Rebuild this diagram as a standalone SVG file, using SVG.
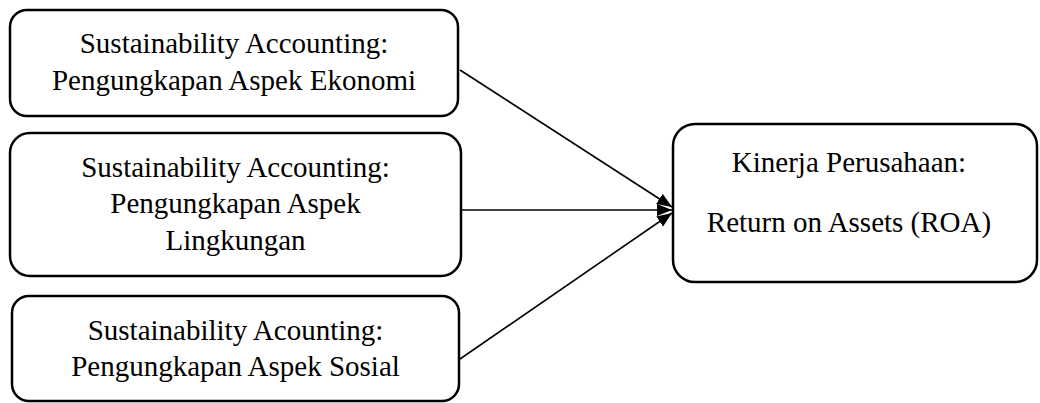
<svg xmlns="http://www.w3.org/2000/svg" width="1040" height="403" viewBox="0 0 1040 403">
<style>
.box{fill:#fff;stroke:#000;stroke-width:2.5}
.t{font-family:"Liberation Serif","Times New Roman",serif;font-size:29px;fill:#000;text-anchor:middle}
.c{stroke:#000;stroke-width:1.6;fill:none}
</style>
<defs>
<marker id="ahl" viewBox="0 0 10 10" refX="10" refY="5" markerWidth="15" markerHeight="15" orient="auto" markerUnits="userSpaceOnUse">
<path d="M0,1 L10,5 L0,9 Z" fill="#000"/>
</marker>
</defs>
<rect width="1040" height="403" fill="#fff"/>
<g id="connectors">
<line class="c" x1="460" y1="70" x2="672" y2="207" marker-end="url(#ahl)"/>
<line class="c" x1="461" y1="210" x2="672" y2="210" marker-end="url(#ahl)"/>
<line class="c" x1="460" y1="359" x2="672" y2="213" marker-end="url(#ahl)"/>
</g>
<g id="node-ekonomi">
<rect class="box" x="10" y="10" width="448" height="106" rx="17"/>
<text class="t" x="234" y="53">Sustainability Accounting:</text>
<text class="t" x="234" y="90">Pengungkapan Aspek Ekonomi</text>
</g>
<g id="node-lingkungan">
<rect class="box" x="10" y="133" width="451" height="143" rx="20"/>
<text class="t" x="235.5" y="177">Sustainability Accounting:</text>
<text class="t" x="235.5" y="213">Pengungkapan Aspek</text>
<text class="t" x="235.5" y="250">Lingkungan</text>
</g>
<g id="node-sosial">
<rect class="box" x="12" y="296" width="447" height="105" rx="17"/>
<text class="t" x="235.5" y="340">Sustainability Acounting:</text>
<text class="t" x="235.5" y="376">Pengungkapan Aspek Sosial</text>
</g>
<g id="node-roa">
<rect class="box" x="673" y="124" width="364" height="158" rx="22"/>
<text class="t" x="849" y="172">Kinerja Perusahaan:</text>
<text class="t" x="849" y="232">Return on Assets (ROA)</text>
</g>
</svg>
